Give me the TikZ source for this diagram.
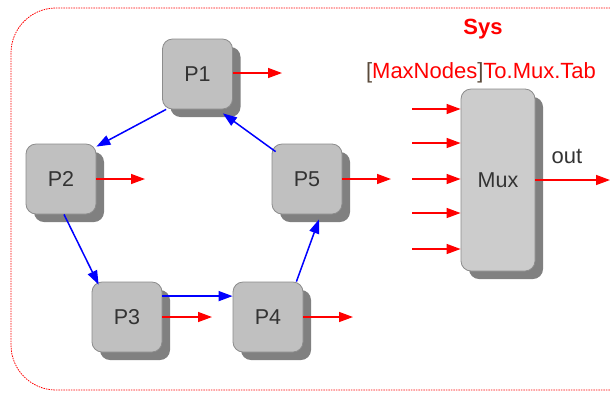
\documentclass[tikz,border=0pt]{standalone}
\usepackage{fontspec}
\setmainfont{Liberation Sans}
\usetikzlibrary{arrows.meta,shadows}
\definecolor{boxfill}{HTML}{C0C0C0}
\definecolor{muxfill}{HTML}{CCCCCC}
\definecolor{shadowc}{HTML}{808080}
\definecolor{borderc}{HTML}{8C8C8C}
\definecolor{txt}{HTML}{333333}
\definecolor{bracket}{HTML}{5A4A3A}
\definecolor{pred}{HTML}{FF0000}
\definecolor{pblue}{HTML}{0000FF}
\tikzset{
  pbox/.style={draw=borderc, line width=0.8pt, fill=boxfill, rounded corners=10pt,
    minimum width=70pt, minimum height=70pt, inner sep=0pt, text=txt,
    font=\fontsize{21.5}{24}\selectfont,
    general shadow={shadow xshift=8pt, shadow yshift=-8pt, fill=shadowc, draw=none, rounded corners=10pt}},
  muxbox/.style={pbox, fill=muxfill, minimum width=74pt, minimum height=182pt},
  redarr/.style={draw=pred, fill=pred, line width=1.4pt, -{Triangle[length=14pt,width=10pt]}},
  bluearr/.style={draw=pblue, fill=pblue, line width=1.5pt, -{Triangle[length=14pt,width=10pt]}},
  lbl/.style={font=\fontsize{22}{24}\selectfont, inner sep=0pt}
}
\begin{document}
\begin{tikzpicture}[x=1pt,y=-1pt]
\useasboundingbox (0,0) rectangle (610,392);
\begin{scope}
\clip (0,0) rectangle (610,392);
\draw[pred, line width=0.8pt, dash pattern=on 1.5pt off 1pt, rounded corners=45pt] (11,8) rectangle (660,390);
\end{scope}
% nodes
\node[pbox] (P1) at (197.5,74) {P1};
\node[pbox] (P2) at (61,179) {P2};
\node[pbox] (P3) at (127,317) {P3};
\node[pbox] (P4) at (268,317) {P4};
\node[pbox] (P5) at (307,179) {P5};
\node[muxbox] (Mux) at (498,180) {Mux};
% labels
\node[lbl, text=pred, font=\fontsize{22}{24}\selectfont\bfseries] (sys) at (483,29) {Sys};
\node[lbl, text=pred] (tab) at (481,73) {\textcolor{bracket}{[}MaxNodes\textcolor{bracket}{]}To.Mux.Tab};
\node[lbl, text=txt] (out) at (567,156) {out};
% red outputs of processes
\coordinate (o1) at (282,73);
\coordinate (o2) at (145,179);
\coordinate (o3) at (212,317);
\coordinate (o4) at (353,317);
\coordinate (o5) at (391,179);
\draw[redarr] (P1.east |- o1) -- (o1);
\draw[redarr] (P2.east) -- (o2);
\draw[redarr] (P3.east) -- (o3);
\draw[redarr] (P4.east) -- (o4);
\draw[redarr] (P5.east) -- (o5);
% mux inputs
\coordinate (i1) at (412,109);
\coordinate (i2) at (412,143);
\coordinate (i3) at (412,179);
\coordinate (i4) at (412,213);
\coordinate (i5) at (412,249);
\foreach \i in {i1,i2,i3,i4,i5}{
  \draw[redarr] (\i) -- (\i -| Mux.west);
}
\coordinate (oo) at (610,180);
\draw[redarr] (Mux.east) -- (oo);
% ring
\draw[bluearr] ([xshift=4pt]P1.south west) -- ([yshift=-3pt]P2.north east);
\draw[bluearr] ([xshift=3pt]P2.south) -- ([xshift=7pt,yshift=-3pt]P3.north west);
\draw[bluearr] ([yshift=-14.5pt]P3.north east) -- ([yshift=-14.5pt]P4.north west);
\draw[bluearr] ([xshift=-7pt]P4.north east) -- ([xshift=12pt,yshift=-5pt]P5.south);
\draw[bluearr] ([xshift=4pt,yshift=-8pt]P5.north west) -- ([xshift=-10pt,yshift=-4pt]P1.south east);
\end{tikzpicture}
\end{document}
